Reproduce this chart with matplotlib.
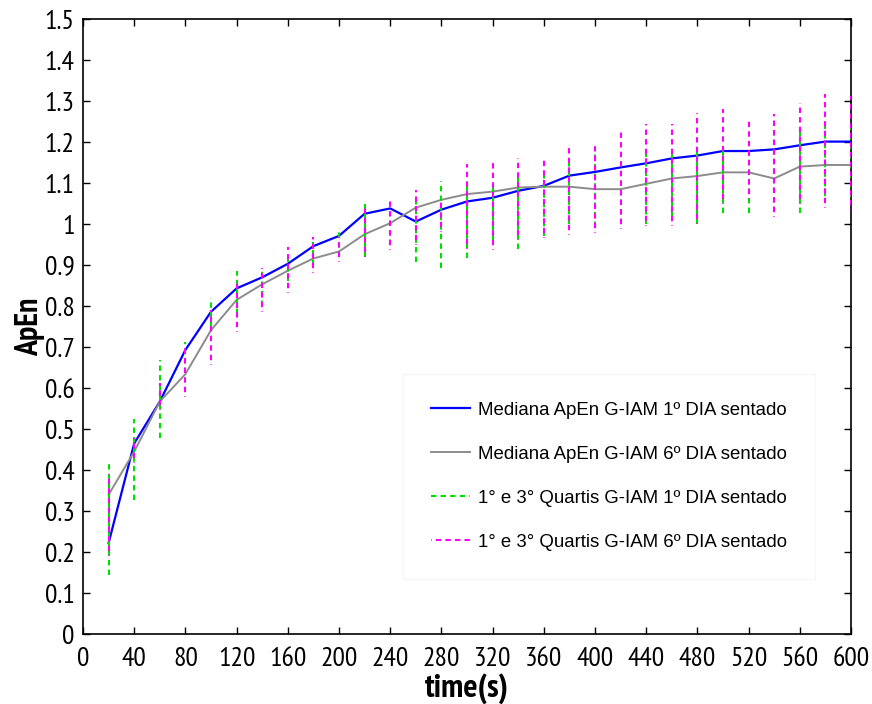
import matplotlib
matplotlib.use("Agg")
import matplotlib.pyplot as plt
from matplotlib import font_manager
from matplotlib.ticker import FixedLocator, FuncFormatter

names = {f.name for f in font_manager.fontManager.ttflist}
candidates = ['Liberation Sans Narrow', 'Arial Narrow', 'PT Sans Narrow',
              'Roboto Condensed', 'Archivo Narrow']
narrow = next((c for c in candidates if c in names), 'Liberation Sans')
plt.rcParams['font.family'] = ['Liberation Sans', 'DejaVu Sans']

time_s = [20, 40, 60, 80, 100, 120, 140, 160, 180, 200, 220, 240, 260, 280, 300,
          320, 340, 360, 380, 400, 420, 440, 460, 480, 500, 520, 540, 560, 580, 600]

median_dia1 = [0.222, 0.465, 0.567, 0.693, 0.786, 0.843, 0.870, 0.903, 0.946, 0.971,
               1.025, 1.038, 1.006, 1.035, 1.055, 1.064, 1.081, 1.093, 1.118, 1.127,
               1.138, 1.148, 1.160, 1.167, 1.178, 1.178, 1.182, 1.192, 1.201, 1.201]

median_dia6 = [0.340, 0.445, 0.567, 0.634, 0.741, 0.815, 0.853, 0.886, 0.916, 0.933,
               0.975, 1.002, 1.040, 1.059, 1.073, 1.079, 1.089, 1.091, 1.091, 1.085,
               1.085, 1.098, 1.111, 1.117, 1.126, 1.126, 1.111, 1.140, 1.144, 1.144]

q1_dia1 = [0.144, 0.328, 0.478, 0.636, 0.750, 0.780, 0.800, 0.860, 0.900, 0.920,
           0.920, 0.950, 0.908, 0.892, 0.916, 0.960, 0.938, 0.970, 1.000, 0.993,
           1.000, 1.000, 1.020, 1.000, 1.026, 1.026, 1.030, 1.026, 1.068, 1.065]
q3_dia1 = [0.418, 0.525, 0.669, 0.713, 0.819, 0.885, 0.893, 0.915, 0.955, 0.990,
           1.048, 1.020, 1.060, 1.105, 1.100, 1.100, 1.120, 1.120, 1.160, 1.176,
           1.164, 1.180, 1.170, 1.185, 1.180, 1.170, 1.241, 1.229, 1.241, 1.245]

q1_dia6 = [0.190, 0.416, 0.546, 0.579, 0.656, 0.737, 0.786, 0.831, 0.880, 0.908,
           0.919, 0.937, 0.950, 0.980, 0.940, 0.937, 0.960, 0.965, 0.973, 0.979,
           0.987, 0.995, 0.995, 1.000, 1.050, 1.060, 1.018, 1.050, 1.040, 1.034]
q3_dia6 = [0.390, 0.477, 0.612, 0.697, 0.790, 0.856, 0.893, 0.943, 0.969, 0.969,
           1.040, 1.055, 1.083, 1.060, 1.146, 1.154, 1.162, 1.162, 1.190, 1.201,
           1.227, 1.245, 1.245, 1.271, 1.280, 1.254, 1.268, 1.294, 1.316, 1.312]

labels = ['Mediana ApEn G-IAM 1º DIA sentado',
          'Mediana ApEn G-IAM 6º DIA sentado',
          '1° e 3° Quartis G-IAM 1º DIA sentado',
          '1° e 3° Quartis G-IAM 6º DIA sentado']

x_ticks = list(range(0, 601, 40))
y_ticks = [i / 10 for i in range(0, 16)]

fig = plt.figure(figsize=(8.72, 7.04), dpi=100)
ax = fig.add_axes([0.0952, 0.0994, 0.8807, 0.8736])

l1, = ax.plot(time_s, median_dia1, color='#0000ff', lw=1.6, zorder=3, label=labels[0])
l2, = ax.plot(time_s, median_dia6, color='#8c8c8c', lw=1.4, zorder=3, label=labels[1])
v1 = ax.vlines(time_s, q1_dia1, q3_dia1, colors='#00e000', lw=1.5,
               linestyles=(0, (2.6, 2.0)), zorder=4, label=labels[2])
v2 = ax.vlines(time_s, q1_dia6, q3_dia6, colors='#ff00ff', lw=1.5,
               linestyles=(2.3, (2.6, 2.0)), zorder=4, label=labels[3])

ax.set_xlim(0, 600)
ax.set_ylim(0, 1.5)
ax.xaxis.set_major_locator(FixedLocator(x_ticks))
ax.yaxis.set_major_locator(FixedLocator(y_ticks))
ax.yaxis.set_major_formatter(FuncFormatter(lambda v, p: ('%g' % round(v, 2))))
ax.tick_params(direction='in', length=5, width=1, top=True, right=True,
               labelsize=20, colors='black')
ax.tick_params(axis='x', pad=9)
ax.tick_params(axis='y', pad=6)
for lab in ax.get_xticklabels() + ax.get_yticklabels():
    lab.set_family([narrow, 'Liberation Sans'])
for s in ax.spines.values():
    s.set_linewidth(1.2)

ax.set_xlabel('time(s)', fontsize=24, fontweight='bold', labelpad=2,
              family=[narrow, 'Liberation Sans'])
ax.set_ylabel('ApEn', fontsize=23, fontweight='bold', labelpad=0,
              family=[narrow, 'Liberation Sans'])

leg = ax.legend(handles=[l1, l2, v1, v2], loc='upper left',
                bbox_to_anchor=(0.417, 0.423), fontsize=13.4, frameon=True,
                fancybox=False, edgecolor='#f6f6f6', facecolor='white', framealpha=1,
                handlelength=2.1, handletextpad=0.4, labelspacing=1.45,
                borderpad=1.5, borderaxespad=0)
leg.set_zorder(5)

fig.savefig('out.png', dpi=100)
